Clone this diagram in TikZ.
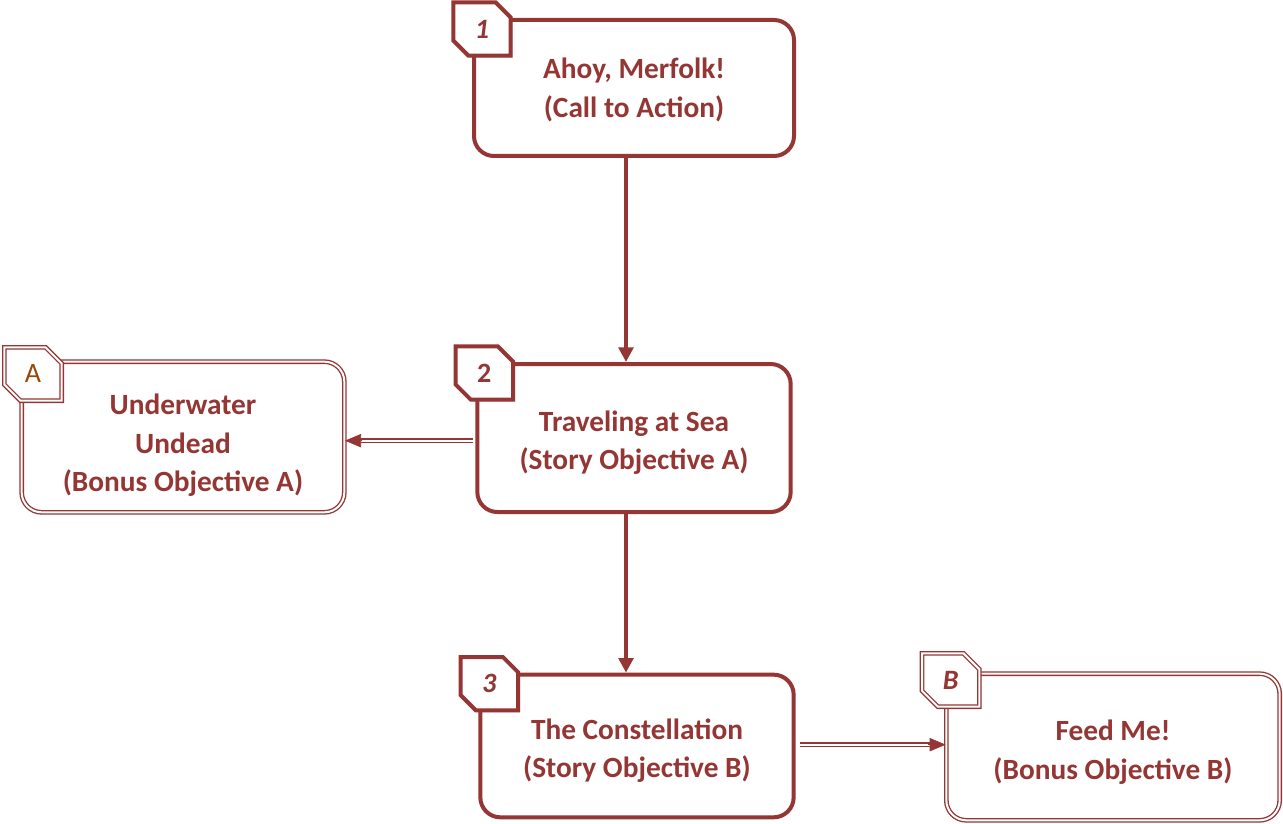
\documentclass[tikz,border=0pt]{standalone}
\usepackage{fontspec}
\setmainfont{Carlito}
\usetikzlibrary{arrows.meta,shapes.misc,shadows}
\definecolor{wine}{HTML}{943634}
\definecolor{rust}{HTML}{984807}
\begin{document}
\begin{tikzpicture}[x=0.75pt, y=-0.75pt,
  box/.style={draw=wine, line width=3pt, rounded corners=15pt, fill=white, text=wine,
    font=\fontsize{22}{29}\selectfont\bfseries, align=center, inner sep=0pt, text depth=-4pt},
  bonus/.style={box, line width=1pt, double, double distance=1.5pt},
  tab/.style={chamfered rectangle, chamfered rectangle corners={north east, south west},
    chamfered rectangle xsep=6pt, chamfered rectangle ysep=6pt, draw=wine, line width=3pt, fill=white, text=wine,
    minimum width=43pt, minimum height=40pt, inner sep=0pt, font=\fontsize{21}{24}\selectfont\bfseries,
    drop shadow={opacity=0.25, shadow xshift=1.5pt, shadow yshift=-1.5pt}},
  btab/.style={tab, line width=1pt, double, double distance=1.5pt},
  link/.style={draw=wine, line width=3pt, -{Triangle[length=11pt, width=11pt]}},
  dlink/.style={draw=wine, line width=1pt, double, double distance=1.5pt},
  tip/.style={draw=wine, line width=0.5pt, -{Triangle[length=12pt, width=10pt]}}]
  \useasboundingbox (0,0) rectangle (1283,824);
  % box centres, in pixels of the page
  \coordinate (p1) at (634,88);
  \coordinate (p2) at (634,438);
  \coordinate (pA) at (183,437);
  \coordinate (p3) at (637,746);
  \coordinate (pB) at (1113,747);
  % story boxes and bonus boxes
  \node[box, minimum width=240pt, minimum height=102pt] (b1) at (p1) {Ahoy, Merfolk!\\(Call to Action)};
  \node[box, minimum width=235pt, minimum height=111pt, text height=47.5pt] (b2) at (p2) {Traveling at Sea\\(Story Objective A)};
  \node[bonus, minimum width=242pt, minimum height=113pt, text height=82pt] (bA) at (pA) {Underwater\\Undead\\(Bonus Objective A)};
  \node[box, minimum width=235pt, minimum height=107pt, text height=47.5pt] (b3) at (p3) {The Constellation\\(Story Objective B)};
  \node[bonus, minimum width=250pt, minimum height=110pt, text height=48pt] (bB) at (pB) {Feed Me!\\(Bonus Objective B)};
  % number tabs on the top left corners
  \node[tab] (t1) at ([shift={(10,11)}]b1.north west) {\itshape 1};
  \node[tab] (t2) at ([shift={(9,11)}]b2.north west) {2};
  \node[btab] (tA) at ([shift={(12,13)}]bA.north west) {\mdseries\color{rust}A};
  \node[tab] (t3) at ([shift={(11,11)}]b3.north west) {\itshape 3};
  \node[btab] (tB) at ([shift={(5,7)}]bB.north west) {\itshape B};
  % story line
  \draw[link] ([xshift=-6pt]b1.south) -- ([xshift=-6pt]b1.south |- b2.north);
  \draw[link] ([xshift=-6pt]b2.south) -- ([xshift=-6pt]b2.south |- b3.north);
  % side branches with double lines
  \coordinate (eA) at ([yshift=-2pt]b2.west -| bA.east);
  \coordinate (hA) at ([xshift=13pt]eA);
  \draw[dlink, shorten <=1.5pt, shorten >=11pt] ([yshift=-2pt]b2.west) -- (eA);
  \draw[tip] (hA) -- (eA);
  \coordinate (eB) at ([yshift=1pt]b3.east -| bB.west);
  \coordinate (hB) at ([xshift=-13pt]eB);
  \draw[dlink, shorten <=3pt, shorten >=11pt] ([yshift=1pt]b3.east) -- (eB);
  \draw[tip] (hB) -- (eB);
\end{tikzpicture}
\end{document}
